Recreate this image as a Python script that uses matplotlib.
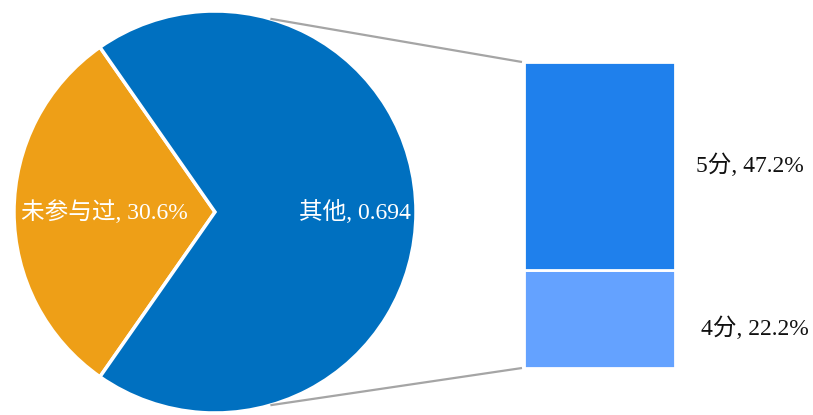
import numpy as np
import matplotlib
matplotlib.use("Agg")
import matplotlib.pyplot as plt

# Data
pie_labels = ["未参与过", "其他"]
pie_values = [0.306, 0.694]
pie_label_texts = ["未参与过, 30.6%", "其他, 0.694"]
bar_labels = ["4分", "5分"]
bar_values = [22.2, 47.2]
bar_label_texts = ["4分, 22.2%", "5分, 47.2%"]

pie_colors = ["#EE9F17", "#0070C0"]
bar_colors = ["#64A2FF", "#1F80EC"]
FONT = ["Liberation Serif", "Noto Sans CJK SC", "DejaVu Sans"]

W, H = 813, 415
fig = plt.figure(figsize=(W / 100, H / 100), dpi=100)
ax = fig.add_axes([0, 0, 1, 1])

# Pie (pixel coordinates, y up)
cx, cy, R = 215, 203, 201
start = 180 - pie_values[0] * 360 / 2
wedges, _ = ax.pie(pie_values, colors=pie_colors, startangle=start, center=(cx, cy),
                   radius=R, frame=True,
                   wedgeprops=dict(edgecolor="white", linewidth=2.5))

# Pie labels
ax.text(104, cy, pie_label_texts[0], color="white", fontsize=17,
        ha="center", va="center", family=FONT)
ax.text(355, cy, pie_label_texts[1], color="white", fontsize=17,
        ha="center", va="center", family=FONT)

# Bar (stacked)
bx, bw = 599.5, 151
b0 = 47
scale = 306 / sum(bar_values)
bottom = b0
for v, c in zip(bar_values, bar_colors):
    h = v * scale
    ax.bar(bx, h, width=bw, bottom=bottom, color=c, edgecolor="white", linewidth=2)
    bottom += h

ax.text(755, H - 328, bar_label_texts[0], fontsize=17, ha="center", va="center",
        family=FONT, color="#111111")
ax.text(750, H - 165, bar_label_texts[1], fontsize=17, ha="center", va="center",
        family=FONT, color="#111111")

# Connector lines
ang = np.deg2rad(74)
x_left = bx - bw / 2
ax.plot([cx + R * np.cos(ang), x_left - 2], [cy + R * np.sin(ang), bottom], color="#A5A5A5", lw=1.6,
        solid_capstyle="butt")
ax.plot([cx + R * np.cos(-ang), x_left - 2], [cy + R * np.sin(-ang), b0], color="#A5A5A5", lw=1.6,
        solid_capstyle="butt")

ax.set_xlim(0, W)
ax.set_ylim(0, H)
ax.set_aspect("equal")
ax.axis("off")

fig.savefig("out.png", dpi=100, facecolor="white")
